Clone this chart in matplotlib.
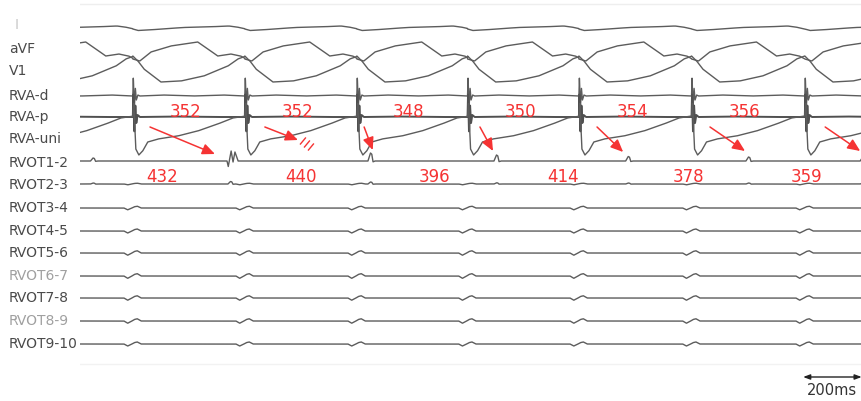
import numpy as np
import matplotlib
matplotlib.use("Agg")
import matplotlib.pyplot as plt

# ---------------- data ----------------
channel_names = ["I", "aVF", "V1", "RVA-d", "RVA-p", "RVA-uni", "RVOT1-2", "RVOT2-3",
                 "RVOT3-4", "RVOT4-5", "RVOT5-6", "RVOT6-7", "RVOT7-8", "RVOT8-9", "RVOT9-10"]

# RVA activation (spike) times, ms from start of trace
spike_times = [166, 518, 870, 1218, 1568, 1922, 2278]
rva_intervals = [352, 352, 348, 350, 354, 356]

# RVOT1-2 activation times, ms
rvot_times = [43, 475, 915, 1311, 1725, 2103, 2462]
rvot_intervals = [432, 440, 396, 414, 378, 359]
rvot12_amp = [3, 10, 8, 6, 4.5, 4, 4]
rvot12_biphasic = [False, True, False, False, False, False, False]
rvot23_amp = [1, 2.5, 2, 1.2, 1, 1, 1]

# beat templates: ms after RVA spike -> deflection (up positive)
lead_I_t = [0, 16, 47, 94, 157, 220, 267, 302, 327, 356]
lead_I_v = [-1, -2.5, -2, -1, 0.5, 1, 1.5, 2, 1, -1]
avf_t = [0, 22, 57, 119, 204, 236, 267, 308, 339, 356]
avf_v = [-7, -9, 0, 6, 10, 3, -4, -2, -4, -7]
v1_t = [0, 16, 35, 88, 151, 223, 299, 330, 356]
v1_v = [11, 6, -2, -15, -14, -9, 1, 8, 11]
rvad_t = [0, 1.6, 4.7, 7.9, 11, 15.7, 22, 94, 189, 283, 356]
rvad_v = [0, 19, -12, 8, -4, 1, 0, 1, 0, 1, 0]
rvap_t = [0, 1.6, 4.7, 7.9, 11, 15, 22, 126, 250, 356]
rvap_v = [0, 24, -17, 12, -6, 2, 0, 0.5, 0, 0]
rvauni_t = [0, 3.1, 9.4, 18.9, 31, 47, 79, 141, 204, 267, 314, 356]
rvauni_v = [13, 26, -20, -26, -22, -13, -10, -7, -2, 5, 11, 13]

# local event shapes (ms around event -> unit deflection)
mono_t = [-10, -2, 2, 6, 12]
mono_v = [0, 1, 0.85, -0.1, 0]
bi_t = [-13, -9, 0, 6, 12, 22]
bi_v = [0, -0.55, 1, -0.1, 0.9, 0]
far_t = [-28, -16, -5, 5, 14, 26]
far_v = [0, -1, -0.2, 0.7, 1, 0]
far_amp = [1.8, 2.0, 2.2, 2.3, 2.2, 2.2, 2.0]   # RVOT3-4 ... RVOT9-10

# annotation arrows (ms), from RVA-uni region to RVOT1-2
arrow_start = [220, 581, 893, 1257, 1625, 1980, 2342]
arrow_end = [424, 685, 920, 1298, 1707, 2090, 2452]
arrow_end_y = [155, 141, 151, 152, 153, 152, 152]

# ---------------- layout ----------------
W, H = 862, 402
X0 = 80                     # pixel where traces start
MS = 352 / 112              # ms per pixel
XMAX = (W - X0) * MS
baselines = [29, 53, 68, 97, 118, 130, 162, 185, 209, 232, 254, 277, 299, 322, 345]
label_y = [25, 49, 71, 96, 117, 139, 163, 185, 208, 231, 253, 276, 298, 321, 344]
label_col = ["#c8c8c8", "#4a4a4a", "#4a4a4a", "#4a4a4a", "#4a4a4a", "#4a4a4a", "#4a4a4a",
             "#4a4a4a", "#4a4a4a", "#4a4a4a", "#4a4a4a", "#a0a0a0", "#4a4a4a", "#a0a0a0", "#4a4a4a"]
TRACE = "#5c5c5c"
RED = "#f53333"

t = np.arange(0, XMAX + 1, 0.5)


def periodic(offs, vals):
    starts = np.array([spike_times[0] - rva_intervals[0]] + spike_times)
    idx = np.searchsorted(starts, t, side="right") - 1
    return np.interp(t - starts[idx], offs, vals)


def events(times, amps, shp_t, shp_v):
    y = np.zeros_like(t)
    for tm, a in zip(times, amps):
        y += a * np.interp(t - tm, shp_t, shp_v, left=0, right=0)
    return y


traces = [
    periodic(lead_I_t, lead_I_v),
    periodic(avf_t, avf_v),
    periodic(v1_t, v1_v),
    periodic(rvad_t, rvad_v),
    periodic(rvap_t, rvap_v),
    periodic(rvauni_t, rvauni_v),
]
r12 = np.zeros_like(t)
for tm, a, b in zip(rvot_times, rvot12_amp, rvot12_biphasic):
    if b:
        r12 += events([tm], [a], bi_t, bi_v)
    else:
        r12 += events([tm], [a], mono_t, mono_v)
traces.append(r12)
traces.append(events(rvot_times, rvot23_amp, mono_t, mono_v)
              + events(spike_times, [0.8] * len(spike_times), far_t, far_v))
for a in far_amp:
    traces.append(events(spike_times, [a] * len(spike_times), far_t, far_v))

# ---------------- figure ----------------
fig = plt.figure(figsize=(W / 100, H / 100), dpi=100)
fig.patch.set_facecolor("white")
ax = fig.add_axes([X0 / W, 0, 1 - X0 / W, 1])
ax.set_xlim(0, XMAX)
ax.set_ylim(H, 0)
ax.axis("off")

ax.axhline(5, color="#eeeeee", lw=1.0)
ax.axhline(365, color="#f2f2f2", lw=1.0)

for i, (name, base, tr) in enumerate(zip(channel_names, baselines, traces)):
    lw = 1.4 if name == "RVA-p" else 1.0
    col = "#505050" if name == "RVA-p" else TRACE
    ax.plot(t, base - tr, color=col, lw=lw, solid_joinstyle="round")
    fig.text(9 / W if name != "I" else 15 / W, 1 - label_y[i] / H, name,
             ha="left", va="center", fontsize=10, color=label_col[i],
             family="DejaVu Sans")

# interval labels
for i, iv in enumerate(rva_intervals):
    xm = (spike_times[i] + spike_times[i + 1]) / 2 - 10
    ax.text(xm, 112, str(iv), ha="center", va="center", fontsize=12, color=RED,
            family="DejaVu Sans")
for i, iv in enumerate(rvot_intervals):
    xm = (rvot_times[i] + rvot_times[i + 1]) / 2
    ax.text(xm, 177, str(iv), ha="center", va="center", fontsize=12, color=RED,
            family="DejaVu Sans")

# arrows
for xs, xe, ye in zip(arrow_start, arrow_end, arrow_end_y):
    ax.annotate("", xy=(xe, ye), xytext=(xs, 128),
                arrowprops=dict(arrowstyle="-|>,head_length=0.5,head_width=0.22",
                                color=RED, lw=1.1, mutation_scale=15,
                                shrinkA=0, shrinkB=0))
# break marks on the second arrow
for k in range(3):
    cx = arrow_end[1] + (5 + 4 * k) * MS
    cy = arrow_end_y[1] + 1 + 3 * k
    ax.plot([cx - 2.5 * MS, cx + 2.5 * MS], [cy + 3, cy - 3], color=RED, lw=1.0)

# scale bar
ax.annotate("", xy=(XMAX - 185, 378), xytext=(XMAX - 1, 378),
            arrowprops=dict(arrowstyle="<|-|>,head_length=0.4,head_width=0.15",
                            color="#222222", lw=1.0, mutation_scale=10,
                            shrinkA=0, shrinkB=0))
ax.text(XMAX - 95, 391, "200ms", ha="center", va="center", fontsize=10.5,
        color="#333333", family="DejaVu Sans")

fig.savefig("out.png", dpi=100, facecolor="white")
